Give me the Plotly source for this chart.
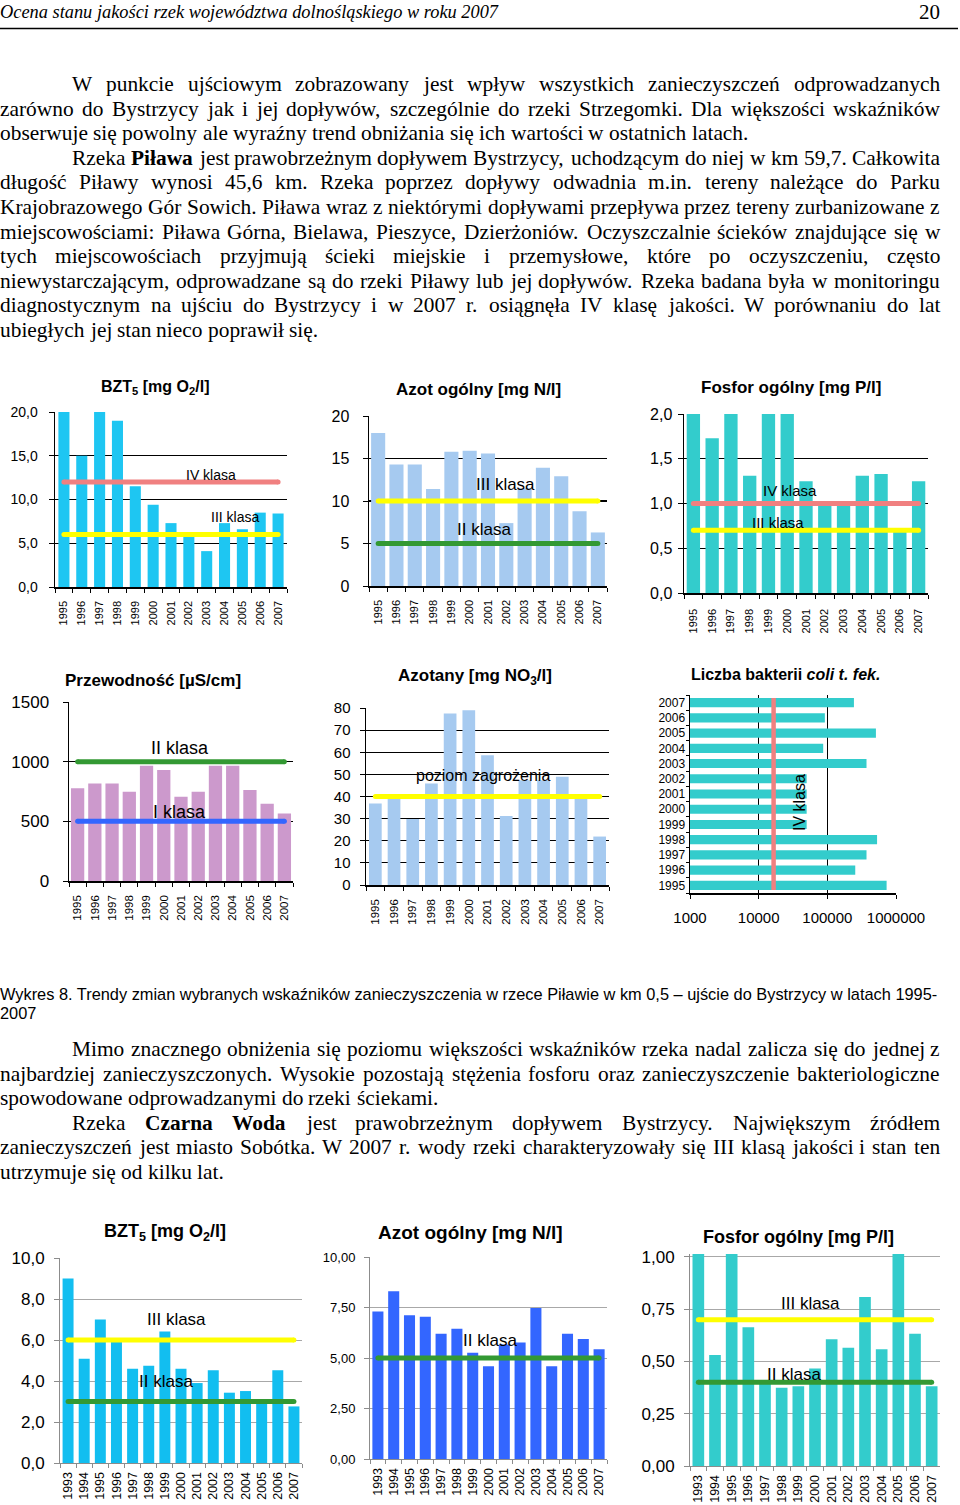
import math
import plotly.graph_objects as go

W, H = 960, 1505
def X(p): return p / W
def Y(p): return 1 - p / H

SERIF = "Liberation Serif"
SANS = "Liberation Sans"

# ---------------- DATA ----------------
years_95 = ['1995', '1996', '1997', '1998', '1999', '2000', '2001', '2002', '2003', '2004', '2005', '2006', '2007']
years_93 = ['1993', '1994', '1995', '1996', '1997', '1998', '1999', '2000', '2001', '2002', '2003', '2004', '2005', '2006', '2007']

# Piława, km 0,5 (1995-2007)
bzt5_pilawa = [24.0, 15.0, 24.0, 19.0, 11.5, 9.4, 7.3, 5.8, 4.1, 7.3, 6.6, 8.5, 8.4]
azot_pilawa = [18.0, 14.3, 14.3, 11.4, 15.8, 15.9, 15.6, 7.4, 11.5, 13.9, 12.9, 8.8, 6.3]
fosfor_pilawa = [2.5, 1.73, 2.5, 1.31, 2.2, 2.5, 1.25, 0.99, 0.99, 1.31, 1.33, 0.69, 1.25]
przewodnosc_pilawa = [777, 818, 818, 748, 965, 931, 706, 748, 965, 965, 762, 648, 566]
azotany_pilawa = [36.8, 39.2, 29.8, 45.9, 77.5, 79.0, 58.7, 31.2, 47.4, 47.4, 48.9, 39.2, 21.9]
coli_pilawa = [730000, 255000, 372000, 530000, 50000, 50000, 50000, 50000, 372000, 87000, 510000, 92000, 244000]

# Czarna Woda (1993-2007)
bzt5_czarna = [9.0, 5.08, 7.0, 5.9, 4.6, 4.75, 6.42, 4.6, 3.9, 4.52, 3.43, 3.51, 2.93, 4.52, 2.76]
azot_czarna = [7.3, 8.3, 7.12, 7.04, 6.2, 6.45, 5.26, 4.59, 5.67, 5.77, 7.47, 4.59, 6.2, 5.94, 5.43]
fosfor_czarna = [1.2, 0.531, 1.2, 0.664, 0.395, 0.374, 0.382, 0.466, 0.606, 0.565, 0.808, 0.558, 1.2, 0.632, 0.382]

# class thresholds
bzt5_pilawa_klasy = [12, 6]
bzt5_pilawa_klasy_nazwy = ['IV klasa', 'III klasa']
azot_pilawa_klasy = [10, 5]
azot_pilawa_klasy_nazwy = ['III klasa', 'II klasa']
fosfor_pilawa_klasy = [1.0, 0.7]
fosfor_pilawa_klasy_nazwy = ['IV klasa', 'III klasa']
przewodnosc_klasy = [1000, 500]
przewodnosc_klasy_nazwy = ['II klasa', 'I klasa']
azotany_poziom = [40]
azotany_poziom_nazwy = ['poziom zagrożenia']
coli_klasa = [16500]
coli_klasa_nazwy = ['IV klasa']
bzt5_czarna_klasy = [6, 3]
bzt5_czarna_klasy_nazwy = ['III klasa', 'II klasa']
azot_czarna_klasy = [5]
azot_czarna_klasy_nazwy = ['II klasa']
fosfor_czarna_klasy = [0.7, 0.4]
fosfor_czarna_klasy_nazwy = ['III klasa', 'II klasa']

# tick labels
t_bzt5_p_vals = [0, 5, 10, 15, 20]
t_bzt5_p_text = ['0,0', '5,0', '10,0', '15,0', '20,0']
t_azot_p_vals = [0, 5, 10, 15, 20]
t_azot_p_text = ['0', '5', '10', '15', '20']
t_fosfor_p_vals = [0, 0.5, 1.0, 1.5, 2.0]
t_fosfor_p_text = ['0,0', '0,5', '1,0', '1,5', '2,0']
t_przew_vals = [0, 500, 1000, 1500]
t_przew_text = ['0', '500', '1000', '1500']
t_azotany_vals = [0, 10, 20, 30, 40, 50, 60, 70, 80]
t_azotany_text = ['0', '10', '20', '30', '40', '50', '60', '70', '80']
t_coli_vals = [1000, 10000, 100000, 1000000]
t_coli_text = ['1000', '10000', '100000', '1000000']
t_bzt5_c_vals = [0, 2, 4, 6, 8, 10]
t_bzt5_c_text = ['0,0', '2,0', '4,0', '6,0', '8,0', '10,0']
t_azot_c_vals = [0, 2.5, 5, 7.5, 10]
t_azot_c_text = ['0,00', '2,50', '5,00', '7,50', '10,00']
t_fosfor_c_vals = [0, 0.25, 0.5, 0.75, 1.0]
t_fosfor_c_text = ['0,00', '0,25', '0,50', '0,75', '1,00']

# ---------------- TEXT ----------------
header_text = "Ocena stanu jakości rzek województwa dolnośląskiego w roku 2007"
page_number = "20"
caption_1 = "Wykres 8. Trendy zmian wybranych wskaźników zanieczyszczenia w rzece Piławie w km 0,5 – ujście do Bystrzycy w latach 1995-"
caption_2 = "2007"

# (y centre px, indent, justify, text) ; *word* = bold
body_lines = [
    (84, True, True, "W punkcie ujściowym zobrazowany jest wpływ wszystkich zanieczyszczeń odprowadzanych"),
    (108.6, False, True, "zarówno do Bystrzycy jak i jej dopływów, szczególnie do rzeki Strzegomki. Dla większości wskaźników"),
    (133.2, False, False, "obserwuje się powolny ale wyraźny trend obniżania się ich wartości w ostatnich latach."),
    (157.8, True, True, "Rzeka *Piława* jest prawobrzeżnym dopływem Bystrzycy, uchodzącym do niej w km 59,7. Całkowita"),
    (182.4, False, True, "długość Piławy wynosi 45,6 km. Rzeka poprzez dopływy odwadnia m.in. tereny należące do Parku"),
    (207, False, True, "Krajobrazowego Gór Sowich. Piława wraz z niektórymi dopływami przepływa przez tereny zurbanizowane z"),
    (231.6, False, True, "miejscowościami: Piława Górna, Bielawa, Pieszyce, Dzierżoniów. Oczyszczalnie ścieków znajdujące się w"),
    (256.2, False, True, "tych miejscowościach przyjmują ścieki miejskie i przemysłowe, które po oczyszczeniu, często"),
    (280.8, False, True, "niewystarczającym, odprowadzane są do rzeki Piławy lub jej dopływów. Rzeka badana była w monitoringu"),
    (305.4, False, True, "diagnostycznym na ujściu do Bystrzycy i w 2007 r. osiągnęła IV klasę jakości. W porównaniu do lat"),
    (330, False, False, "ubiegłych jej stan nieco poprawił się."),
    (1049, True, True, "Mimo znacznego obniżenia się poziomu większości wskaźników rzeka nadal zalicza się do jednej z"),
    (1073.5, False, True, "najbardziej zanieczyszczonych. Wysokie pozostają stężenia fosforu oraz zanieczyszczenie bakteriologiczne"),
    (1098, False, False, "spowodowane odprowadzanymi do rzeki ściekami."),
    (1122.5, True, True, "Rzeka *Czarna* *Woda* jest prawobrzeżnym dopływem Bystrzycy. Największym źródłem"),
    (1147, False, True, "zanieczyszczeń jest miasto Sobótka. W 2007 r. wody rzeki charakteryzowały się III klasą jakości i stan ten"),
    (1171.5, False, False, "utrzymuje się od kilku lat."),
]

# ---------------- FONT METRICS (for justification) ----------------
lc = "abcdefghijklmnopqrstuvwxyz"
uc = "ABCDEFGHIJKLMNOPQRSTUVWXYZ"
TIMES = dict(zip(lc, [444, 500, 444, 500, 444, 333, 500, 500, 278, 278, 500, 278, 778, 500, 500, 500, 500, 333, 389, 278, 500, 500, 722, 500, 500, 444]))
TIMES.update(zip(uc, [722, 667, 667, 722, 611, 556, 722, 722, 333, 389, 722, 611, 889, 722, 722, 556, 722, 667, 556, 611, 722, 722, 944, 722, 722, 611]))
TIMES.update({c: 500 for c in "0123456789"})
TIMES.update({' ': 250, '.': 250, ',': 250, ':': 278, ';': 278, '-': 333, '–': 500, '/': 278})
TIMESB = dict(zip(lc, [500, 556, 444, 556, 444, 333, 500, 556, 278, 333, 556, 278, 833, 556, 500, 556, 556, 444, 389, 333, 556, 500, 722, 500, 500, 444]))
TIMESB.update(zip(uc, [722, 667, 722, 722, 667, 611, 778, 778, 389, 500, 778, 667, 944, 722, 778, 611, 778, 722, 556, 667, 722, 722, 1000, 722, 722, 667]))
TIMESI = dict(TIMES)
TIMESI.update(zip(lc, [500, 500, 444, 500, 444, 278, 500, 500, 278, 278, 444, 278, 722, 500, 500, 500, 500, 389, 389, 278, 500, 444, 667, 444, 444, 389]))
HELV = dict(zip(lc, [556, 556, 500, 556, 556, 278, 556, 556, 222, 222, 500, 222, 833, 556, 556, 556, 556, 333, 500, 278, 556, 500, 722, 500, 500, 500]))
HELV.update(zip(uc, [667, 667, 722, 722, 667, 611, 778, 722, 278, 500, 667, 556, 833, 722, 778, 667, 778, 722, 667, 611, 722, 667, 944, 667, 667, 611]))
HELV.update({c: 556 for c in "0123456789"})
HELV.update({' ': 278, '.': 278, ',': 278, '-': 333, '–': 556})
POLISH = {'ą': 'a', 'ć': 'c', 'ę': 'e', 'ł': 'l', 'ń': 'n', 'ó': 'o', 'ś': 's', 'ź': 'z', 'ż': 'z',
          'Ą': 'A', 'Ć': 'C', 'Ę': 'E', 'Ł': 'L', 'Ń': 'N', 'Ó': 'O', 'Ś': 'S', 'Ź': 'Z', 'Ż': 'Z'}

def em_width(s, table):
    return sum(table.get(POLISH.get(ch, ch), 500) for ch in s) / 1000.0

fig = go.Figure()
annotations = []
shapes = []

BODY_FS = 21.4
LEFT, RIGHT, INDENT = 0.0, 940.0, 72.0

for yc, indent, justify, text in body_lines:
    words = text.split(' ')
    items = []
    for w in words:
        bold = w.startswith('*') and w.endswith('*')
        ww = w.strip('*')
        width = em_width(ww, TIMESB if bold else TIMES) * BODY_FS
        items.append((ww, bold, width))
    x0 = LEFT + (INDENT if indent else 0)
    total = sum(it[2] for it in items)
    if justify and len(items) > 1:
        gap = (RIGHT - x0 - total) / (len(items) - 1)
    else:
        gap = TIMES[' '] / 1000.0 * BODY_FS
    x = x0
    for ww, bold, width in items:
        annotations.append(dict(
            text=("<b>%s</b>" % ww) if bold else ww, x=X(x), y=Y(yc),
            xref='paper', yref='paper', xanchor='left', yanchor='middle',
            showarrow=False, borderpad=0, borderwidth=0,
            font=dict(family=SERIF, size=BODY_FS, color='black')))
        x += width + gap

# header
hdr_fs = 499.0 / em_width(header_text, TIMESI)
annotations.append(dict(text="<i>%s</i>" % header_text, x=X(0), y=Y(12), xref='paper', yref='paper',
                        xanchor='left', yanchor='middle', showarrow=False, borderpad=0, borderwidth=0,
                        font=dict(family=SERIF, size=hdr_fs, color='black')))
annotations.append(dict(text=page_number, x=X(940), y=Y(12), xref='paper', yref='paper',
                        xanchor='right', yanchor='middle', showarrow=False, borderpad=0, borderwidth=0,
                        font=dict(family=SERIF, size=21, color='black')))
shapes.append(dict(type='line', xref='paper', yref='paper', x0=0, x1=X(958), y0=Y(28.5), y1=Y(28.5),
                   line=dict(color='black', width=1.6)))

# caption
cap_fs = 939.0 / em_width(caption_1, HELV)
for yc, t in [(994, caption_1), (1013, caption_2)]:
    annotations.append(dict(text=t, x=X(0), y=Y(yc), xref='paper', yref='paper',
                            xanchor='left', yanchor='middle', showarrow=False, borderpad=0, borderwidth=0,
                            font=dict(family=SANS, size=cap_fs, color='black')))

# ---------------- CHARTS ----------------
SALMON = '#F08080'
YELLOW = '#FFFF00'
GREEN = '#339933'
BLUE = '#3366FF'

charts = [
    dict(box=(55, 287, 412, 587), cats=years_95, vals=bzt5_pilawa, color='#1EC6F2', bw=0.62,
         yr=[0, 20], tv=t_bzt5_p_vals, tt=t_bzt5_p_text, yfs=14, catfs=11, dark=True, ystand=8, xstand=8,
         thr=bzt5_pilawa_klasy, thrc=[SALMON, YELLOW],
         lab=[(bzt5_pilawa_klasy_nazwy[0], 8.24, 12.8, 14), (bzt5_pilawa_klasy_nazwy[1], 9.58, 8.0, 14)],
         title=("BZT<sub>5</sub> [mg O<sub>2</sub>/l]", 155, 388, 16)),
    dict(box=(369, 607, 416, 586), cats=years_95, vals=azot_pilawa, color='#A6CAF0', bw=0.77,
         yr=[0, 20], tv=t_azot_p_vals, tt=t_azot_p_text, yfs=16, catfs=11, dark=True, ystand=10, xstand=8,
         thr=azot_pilawa_klasy, thrc=[YELLOW, GREEN],
         lab=[(azot_pilawa_klasy_nazwy[0], 6.93, 12.0, 17), (azot_pilawa_klasy_nazwy[1], 5.78, 6.6, 17)],
         title=("Azot ogólny [mg N/l]", 478, 390, 17)),
    dict(box=(684, 928, 414, 593), cats=years_95, vals=fosfor_pilawa, color='#33CCCC', bw=0.71,
         yr=[0, 2], tv=t_fosfor_p_vals, tt=t_fosfor_p_text, yfs=16, catfs=11, dark=True, ystand=2, xstand=10,
         thr=fosfor_pilawa_klasy, thrc=[SALMON, YELLOW],
         lab=[(fosfor_pilawa_klasy_nazwy[0], 5.15, 1.14, 15), (fosfor_pilawa_klasy_nazwy[1], 4.51, 0.79, 15)],
         title=("Fosfor ogólny [mg P/l]", 791, 388, 17)),
    dict(box=(69, 293, 702, 881), cats=years_95, vals=przewodnosc_pilawa, color='#CC99CC', bw=0.77,
         yr=[0, 1500], tv=t_przew_vals, tt=t_przew_text, yfs=17, catfs=11.5, dark=True, ystand=10, xstand=8,
         thr=przewodnosc_klasy, thrc=[GREEN, BLUE],
         lab=[(przewodnosc_klasy_nazwy[0], 5.94, 1115, 18), (przewodnosc_klasy_nazwy[1], 5.94, 578, 18)],
         title=("Przewodność [µS/cm]", 153, 680, 17)),
    dict(box=(366, 609, 708, 885), cats=years_95, vals=azotany_pilawa, color='#A6CAF0', bw=0.68,
         yr=[0, 80], tv=t_azotany_vals, tt=t_azotany_text, yfs=15, catfs=11.5, dark=True, ystand=6, xstand=8,
         thr=azotany_poziom, thrc=[YELLOW],
         lab=[(azotany_poziom_nazwy[0], 5.76, 49.3, 16)],
         title=("Azotany [mg NO<sub>3</sub>/l]", 475, 677, 17)),
    None,  # coli (horizontal, handled separately)
    dict(box=(60, 302, 1258, 1463), cats=years_93, vals=bzt5_czarna, color='#12BEF0', bw=0.68,
         yr=[0, 10], tv=t_bzt5_c_vals, tt=t_bzt5_c_text, yfs=17, catfs=12.5, dark=False, ystand=6, xstand=3,
         thr=bzt5_czarna_klasy, thrc=[YELLOW, GREEN],
         lab=[(bzt5_czarna_klasy_nazwy[0], 6.75, 7.02, 17), (bzt5_czarna_klasy_nazwy[1], 6.07, 4.0, 17)],
         title=("BZT<sub>5</sub> [mg O<sub>2</sub>/l]", 165, 1232, 18)),
    dict(box=(370, 607, 1257, 1459), cats=years_93, vals=azot_czarna, color='#3366FF', bw=0.7,
         yr=[0, 10], tv=t_azot_c_vals, tt=t_azot_c_text, yfs=13, catfs=12.5, dark=False, ystand=6, xstand=3,
         thr=azot_czarna_klasy, thrc=[GREEN],
         lab=[(azot_czarna_klasy_nazwy[0], 7.09, 5.89, 17)],
         title=("Azot ogólny [mg N/l]", 470, 1232, 19)),
    dict(box=(690, 940, 1254, 1466), cats=years_93, vals=fosfor_czarna, color='#33CCCC', bw=0.7,
         yr=[0, 1.014], tv=t_fosfor_c_vals, tt=t_fosfor_c_text, yfs=17, catfs=12.5, dark=False, ystand=6, xstand=3,
         thr=fosfor_czarna_klasy, thrc=[YELLOW, GREEN],
         lab=[(fosfor_czarna_klasy_nazwy[0], 6.7, 0.776, 17), (fosfor_czarna_klasy_nazwy[1], 5.74, 0.436, 17)],
         title=("Fosfor ogólny [mg P/l]", 798, 1237, 18)),
]

layout = {}

def names(i):
    s = '' if i == 1 else str(i)
    return 'x' + s, 'y' + s, 'xaxis' + s, 'yaxis' + s

for i, c in enumerate(charts, start=1):
    if c is None:
        continue
    xn, yn, xa, ya = names(i)
    x0, x1, yt, yb = c['box']
    axc = 'black' if c['dark'] else '#8C8C8C'
    gc = 'black' if c['dark'] else '#A8A8A8'
    alw = 1.5 if c['dark'] else 1
    fig.add_trace(go.Bar(x=c['cats'], y=c['vals'], width=c['bw'], xaxis=xn, yaxis=yn,
                         marker=dict(color=c['color'], line=dict(width=0)), hoverinfo='skip'))
    for v, col in zip(c['thr'], c['thrc']):
        fig.add_trace(go.Scatter(x=[c['cats'][0], c['cats'][-1]], y=[v, v], xaxis=xn, yaxis=yn,
                                 mode='lines+markers', line=dict(color=col, width=5),
                                 marker=dict(color=col, size=5), hoverinfo='skip'))
    layout[xa] = dict(domain=[X(x0), X(x1)], anchor=yn, type='category', categoryorder='array',
                      categoryarray=c['cats'], range=[-0.5, len(c['cats']) - 0.5], automargin=False,
                      showline=True, linecolor=axc, linewidth=alw, ticks='outside', tickson='boundaries',
                      ticklen=4, tickcolor=axc, tickwidth=1, tickangle=-90, showgrid=False,
                      ticklabelstandoff=c['xstand'],
                      tickfont=dict(family=SANS, size=c['catfs'], color='black'), fixedrange=True)
    layout[ya] = dict(domain=[Y(yb), Y(yt)], anchor=xn, range=c['yr'], tickmode='array', automargin=False,
                      tickvals=c['tv'], ticktext=c['tt'], showline=True, linecolor=axc, linewidth=alw,
                      ticks='outside', ticklen=5, tickcolor=axc, tickwidth=1, showgrid=True, gridcolor=gc,
                      gridwidth=1.2 if c['dark'] else 1, zeroline=False, ticklabelstandoff=c['ystand'],
                      tickfont=dict(family=SANS, size=c['yfs'], color='black'), fixedrange=True)
    for t, xi, yv, fs in c['lab']:
        annotations.append(dict(text=t, x=xi, y=yv, xref=xn, yref=yn, showarrow=False,
                                xanchor='center', yanchor='middle', borderpad=0,
                                font=dict(family=SANS, size=fs, color='black')))
    tt, cx, cy, fs = c['title']
    annotations.append(dict(text="<b>%s</b>" % tt, x=X(cx), y=Y(cy), xref='paper', yref='paper',
                            showarrow=False, xanchor='center', yanchor='middle', borderpad=0,
                            font=dict(family=SANS, size=fs, color='black')))

# chart 6: Liczba bakterii coli t. fek. (horizontal, log)
xn, yn, xa, ya = names(6)
fig.add_trace(go.Bar(x=coli_pilawa, y=years_95, orientation='h', width=0.6, xaxis=xn, yaxis=yn,
                     marker=dict(color='#33CCCC', line=dict(width=0)), hoverinfo='skip'))
layout[xa] = dict(domain=[X(690), X(896)], anchor=yn, type='log', range=[3, 6], tickmode='array',
                  tickvals=t_coli_vals, ticktext=t_coli_text, showline=True, linecolor='black', linewidth=1.5,
                  ticks='outside', ticklen=4, tickcolor='black', showgrid=True, gridcolor='black', gridwidth=1.5,
                  zeroline=False, ticklabelstandoff=6, automargin=False,
                  tickfont=dict(family=SANS, size=15, color='black'), fixedrange=True)
layout[ya] = dict(domain=[Y(893), Y(695)], anchor=xn, type='category', categoryorder='array',
                  categoryarray=years_95, range=[-0.5, len(years_95) - 0.5], showline=True, automargin=False,
                  linecolor='black', linewidth=1.5, ticks='outside', tickson='boundaries', ticklen=3,
                  tickcolor='black', showgrid=False, ticklabelstandoff=1,
                  tickfont=dict(family=SANS, size=12, color='black'), fixedrange=True)
for v in coli_klasa:
    shapes.append(dict(type='line', xref=xn, yref=yn + ' domain', x0=v, x1=v, y0=0.015, y1=0.985,
                       line=dict(color=SALMON, width=4.5)))
annotations.append(dict(text=coli_klasa_nazwy[0], x=math.log10(38600), y=5.47, xref=xn, yref=yn,
                        showarrow=False, textangle=-90, xanchor='center', yanchor='middle', borderpad=0,
                        font=dict(family=SANS, size=16, color='black')))
annotations.append(dict(text="<b>Liczba bakterii <i>coli t. fek.</i></b>", x=X(785), y=Y(675),
                        xref='paper', yref='paper', showarrow=False, xanchor='center', yanchor='middle',
                        borderpad=0, font=dict(family=SANS, size=16, color='black')))

fig.update_layout(width=W, height=H, margin=dict(l=0, r=0, t=0, b=0, autoexpand=False),
                  paper_bgcolor='white', plot_bgcolor='white', showlegend=False,
                  annotations=annotations, shapes=shapes, **layout)

fig.write_html("out.html", config={'displayModeBar': False, 'staticPlot': True},
               post_script="document.body.style.margin='0px';document.body.style.padding='0px';"
                           "document.documentElement.style.overflow='hidden';")
